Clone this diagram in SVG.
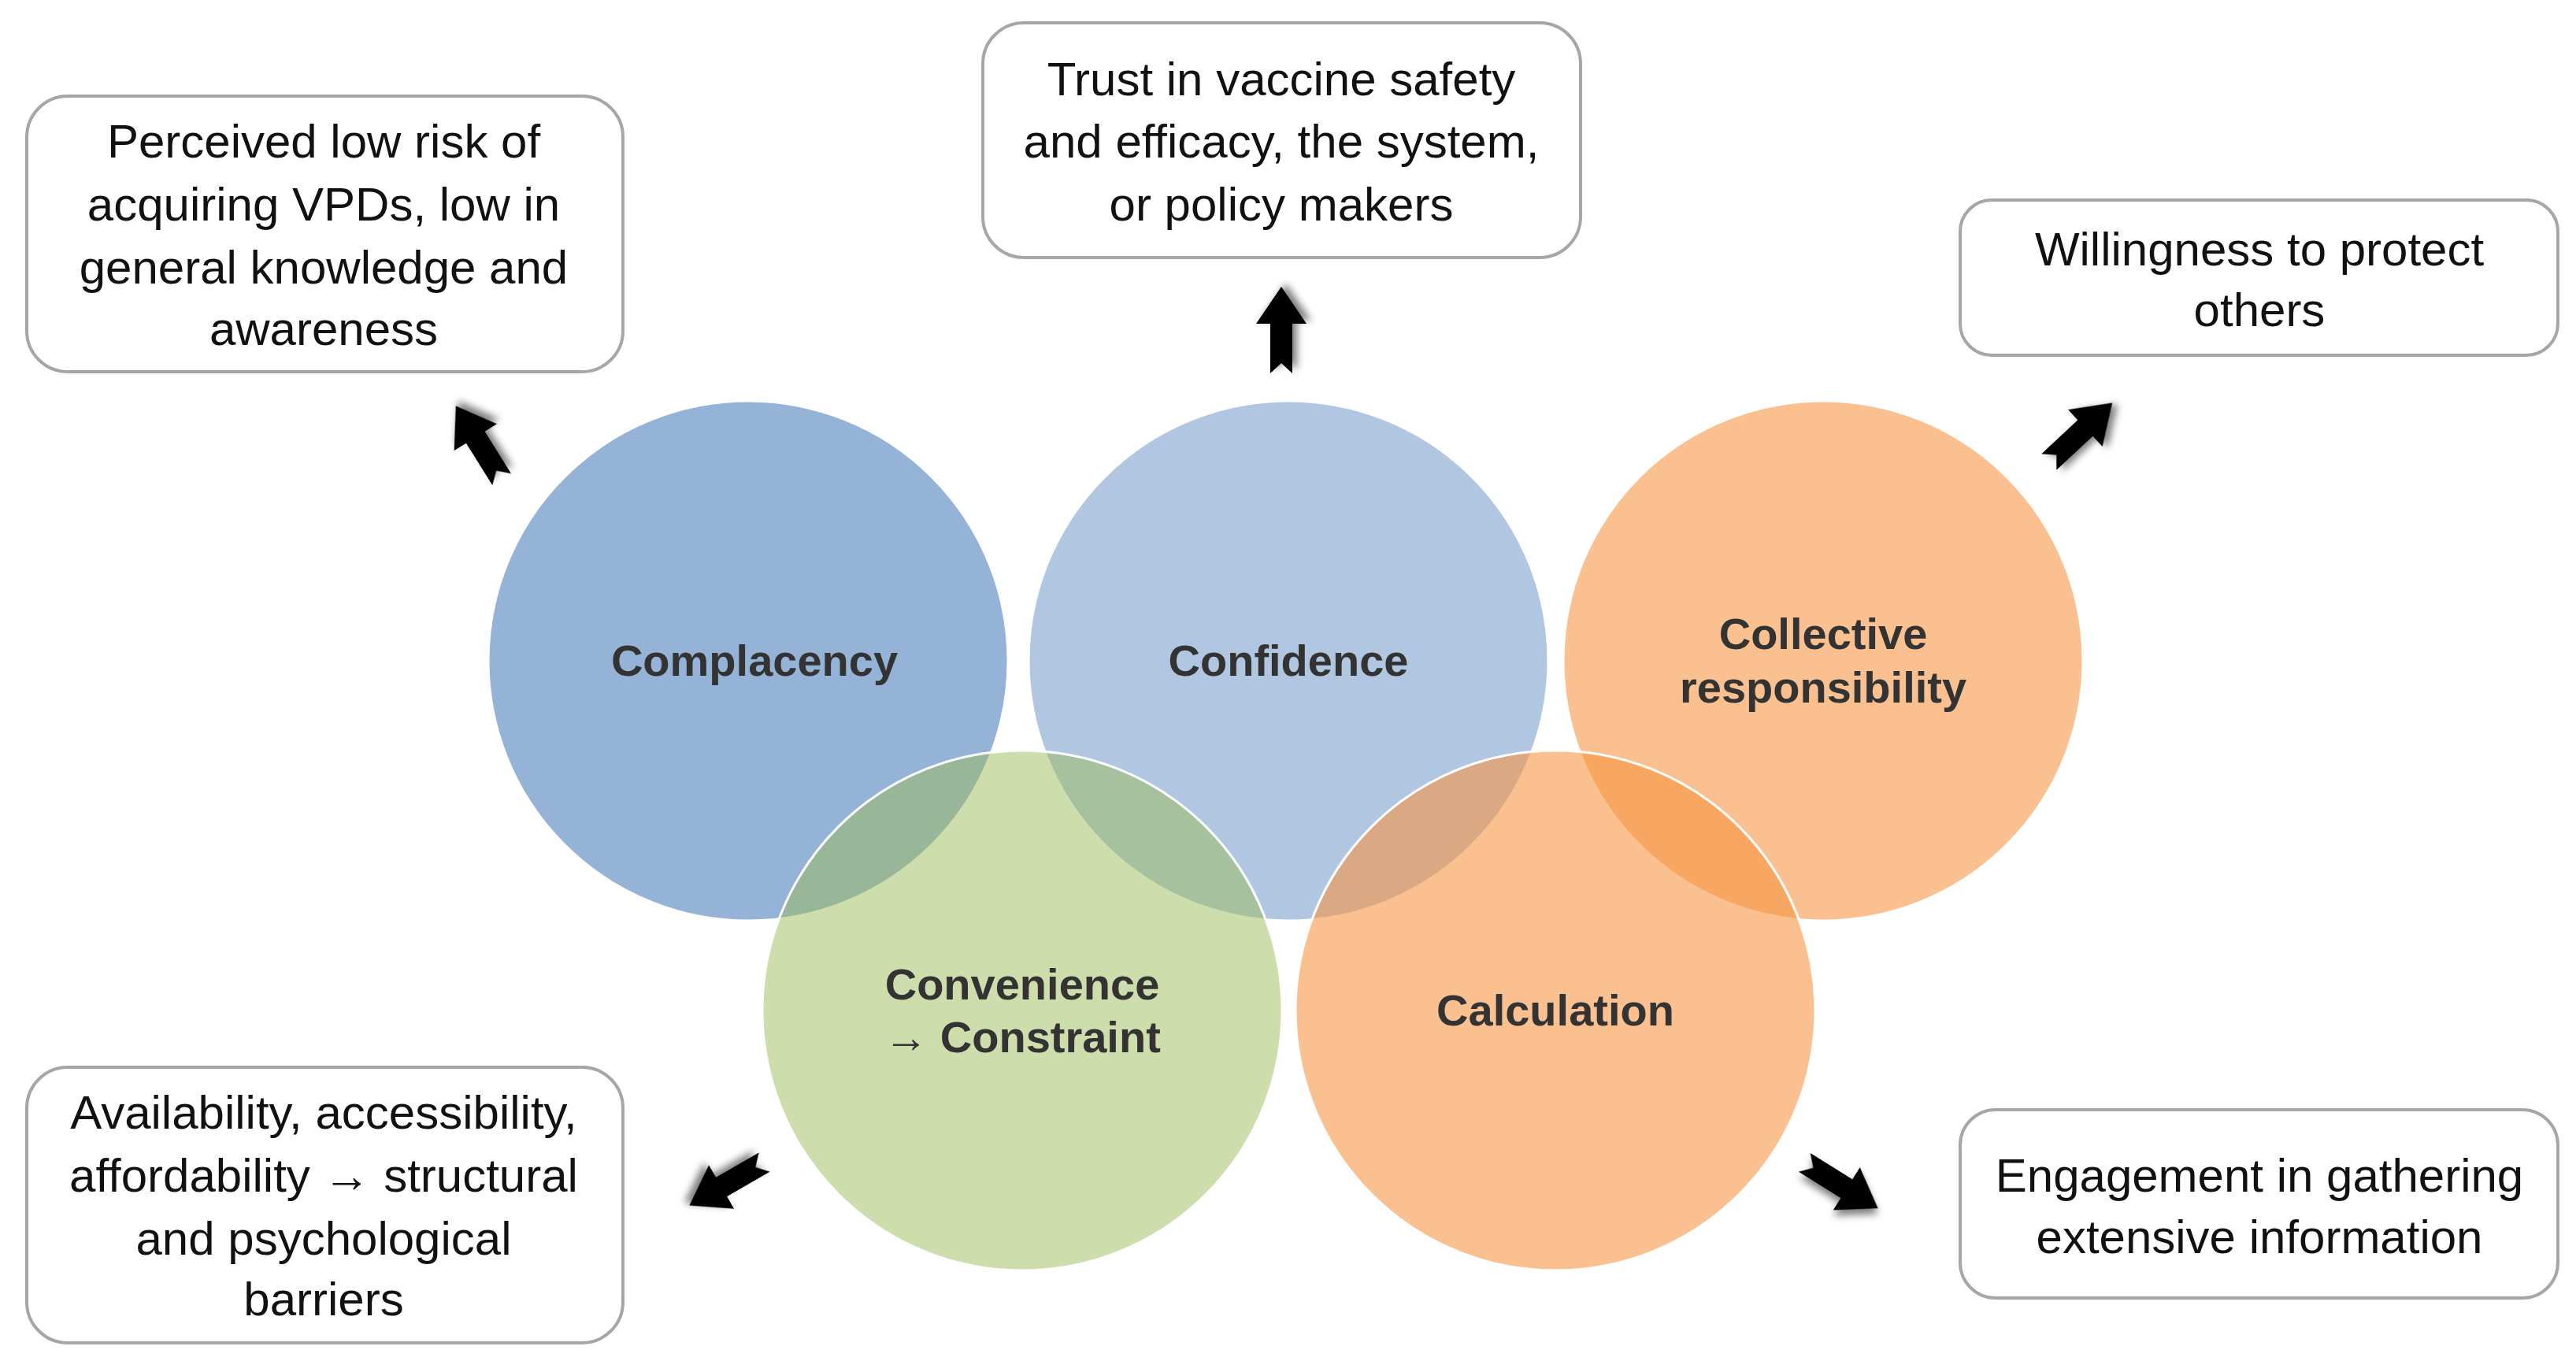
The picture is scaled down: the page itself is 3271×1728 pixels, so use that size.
<svg xmlns="http://www.w3.org/2000/svg" width="3271" height="1728" viewBox="0 0 3271 1728">
<defs>
<filter id="sh" x="-50%" y="-50%" width="200%" height="200%"><feDropShadow dx="4" dy="6" stdDeviation="5" flood-color="#000" flood-opacity="0.5"/></filter>
<path id="arr" d="M-55,-14 L8,-14 L8,-32 L55,0 L8,32 L8,14 L-55,14 L-42,0 Z"/>
</defs>
<style>
.box{fill:#fff;stroke:#A6A6A6;stroke-width:4}
.bt{font-family:"Liberation Sans Narrow","Liberation Sans",sans-serif;font-size:60px;fill:#111;text-anchor:middle}
.ct{font-family:"Liberation Sans Narrow","Liberation Sans",sans-serif;font-size:56px;font-weight:bold;fill:#333;text-anchor:middle}
.c{stroke:#fff;stroke-width:3}
.a{fill:#000;filter:url(#sh)}
</style>
<rect width="3271" height="1728" fill="#fff"/>
<g id="complacency"><circle class="c" cx="950" cy="839" r="330" fill="#4F81BD" fill-opacity="0.6"/></g>
<g id="collective"><circle class="c" cx="2315" cy="839" r="330" fill="#F79646" fill-opacity="0.6"/></g>
<g id="confidence"><circle class="c" cx="1636" cy="839" r="330" fill="#4F81BD" fill-opacity="0.45"/></g>
<g id="convenience"><circle class="c" cx="1298" cy="1283" r="330" fill="#9BBB59" fill-opacity="0.5"/></g>
<g id="calculation"><circle class="c" cx="1975" cy="1283" r="330" fill="#F79646" fill-opacity="0.6"/></g>
<g id="labels">
<text class="ct" x="958" y="858">Complacency</text>
<text class="ct" x="1636" y="858">Confidence</text>
<text class="ct" x="2315" y="824">Collective</text>
<text class="ct" x="2315" y="892">responsibility</text>
<text class="ct" x="1298" y="1269">Convenience</text>
<text class="ct" x="1298" y="1336">→ Constraint</text>
<text class="ct" x="1975" y="1302">Calculation</text>
</g>
<g id="box1"><rect class="box" x="34" y="122" width="757" height="350" rx="52"/>
<text class="bt" x="411" y="200">Perceived low risk of</text><text class="bt" x="411" y="280">acquiring VPDs, low in</text><text class="bt" x="411" y="360">general knowledge and</text><text class="bt" x="411" y="438">awareness</text></g>
<g id="box2"><rect class="box" x="1248" y="29" width="759" height="298" rx="52"/>
<text class="bt" x="1627" y="121">Trust in vaccine safety</text><text class="bt" x="1627" y="200">and efficacy, the system,</text><text class="bt" x="1627" y="280">or policy makers</text></g>
<g id="box3"><rect class="box" x="2489" y="254" width="759" height="197" rx="40"/>
<text class="bt" x="2869" y="337">Willingness to protect</text><text class="bt" x="2869" y="414">others</text></g>
<g id="box4"><rect class="box" x="34" y="1355" width="757" height="350" rx="52"/>
<text class="bt" x="411" y="1433">Availability, accessibility,</text><text class="bt" x="411" y="1513">affordability → structural</text><text class="bt" x="411" y="1593">and psychological</text><text class="bt" x="411" y="1670">barriers</text></g>
<g id="box5"><rect class="box" x="2489" y="1409" width="759" height="239" rx="45"/>
<text class="bt" x="2869" y="1513">Engagement in gathering</text><text class="bt" x="2869" y="1591">extensive information</text></g>
<g id="connectors">
<use href="#arr" class="a" transform="translate(608,562) rotate(-122)"/>
<use href="#arr" class="a" transform="translate(1627,419) rotate(-90)"/>
<use href="#arr" class="a" transform="translate(2642,549) rotate(-43)"/>
<use href="#arr" class="a" transform="translate(923,1503) rotate(150)"/>
<use href="#arr" class="a" transform="translate(2338,1505) rotate(32)"/>
</g>
</svg>
